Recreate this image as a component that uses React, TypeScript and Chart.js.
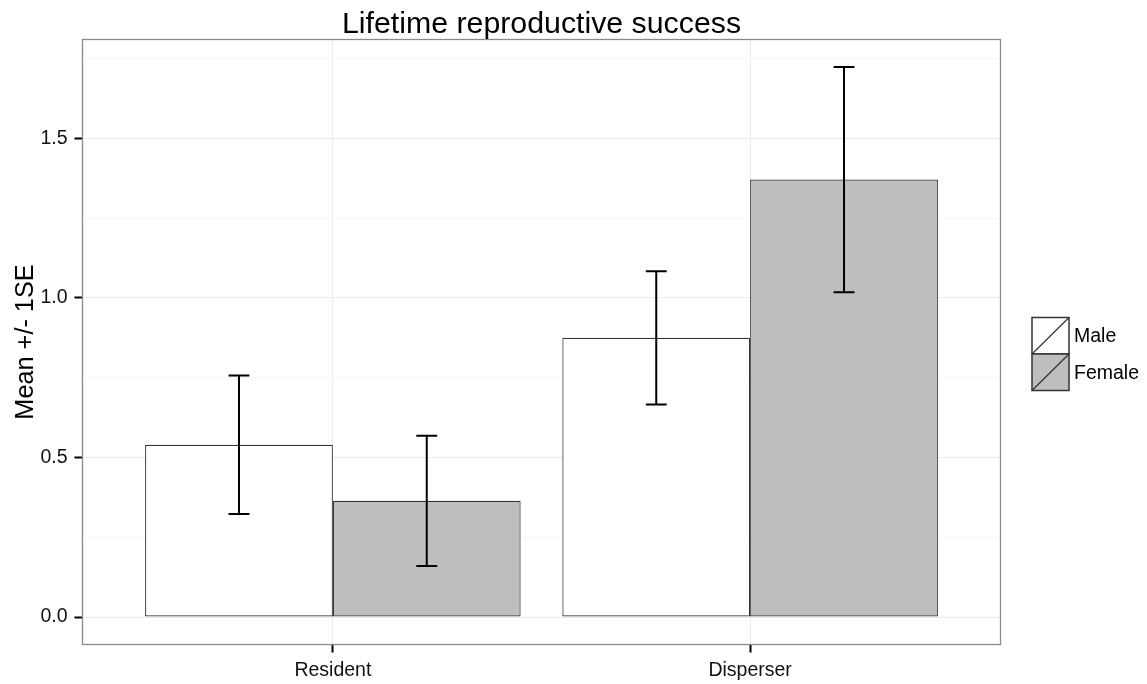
import React, { useEffect, useRef } from "react";
import { Chart, registerables } from "chart.js";

Chart.register(...registerables);

const categories = ["Resident", "Disperser"];
const seriesNames = ["Male", "Female"];
const maleMean = [0.54, 0.875];
const maleSE = [0.217, 0.209];
const femaleMean = [0.364, 1.371];
const femaleSE = [0.204, 0.353];
const yTicks = [0, 0.25, 0.5, 0.75, 1.0, 1.25, 1.5, 1.75];
const titleText = "Lifetime reproductive success";
const yTitle = "Mean +/- 1SE";

const FONT = "'Liberation Sans', Arial, Helvetica, sans-serif";
const fills = ["#ffffff", "#bebebe"];
const seList = [maleSE, femaleSE];

export default function App() {
  const ref = useRef<HTMLCanvasElement | null>(null);
  useEffect(() => {
    document.body.style.margin = "0";
    const canvas = ref.current!;
    const maxUpper = Math.max(
      ...maleMean.map((m, i) => m + maleSE[i]),
      ...femaleMean.map((m, i) => m + femaleSE[i])
    );
    const yMax = maxUpper * 1.05;
    const yMin = -maxUpper * 0.05;

    const decor = {
      id: "decor",
      afterDatasetsDraw(chart: any) {
        const ctx = chart.ctx;
        const x = chart.scales.x;
        const y = chart.scales.y;
        const half = (x.getPixelForValue(0.025) - x.getPixelForValue(0));
        ctx.save();
        ctx.strokeStyle = "#000";
        ctx.lineWidth = 2;
        chart.data.datasets.forEach((ds: any, di: number) => {
          const meta = chart.getDatasetMeta(di);
          meta.data.forEach((el: any, j: number) => {
            const m = ds.data[j].y;
            const se = seList[di][j];
            const cx = el.x;
            const top = y.getPixelForValue(m + se);
            const bot = y.getPixelForValue(m - se);
            ctx.beginPath();
            ctx.moveTo(cx, top);
            ctx.lineTo(cx, bot);
            ctx.moveTo(cx - half, top);
            ctx.lineTo(cx + half, top);
            ctx.moveTo(cx - half, bot);
            ctx.lineTo(cx + half, bot);
            ctx.stroke();
          });
        });
        ctx.restore();
      },
      afterDraw(chart: any) {
        const ctx = chart.ctx;
        const a = chart.chartArea;
        ctx.save();
        // panel border
        ctx.strokeStyle = "#8a8a8a";
        ctx.lineWidth = 1.3;
        ctx.strokeRect(a.left, a.top, a.right - a.left, a.bottom - a.top);
        // title
        ctx.fillStyle = "#000";
        ctx.font = `30.3px ${FONT}`;
        ctx.textAlign = "center";
        ctx.textBaseline = "alphabetic";
        ctx.fillText(titleText, (a.left + a.right) / 2, 33);
        // y title
        ctx.save();
        ctx.translate(33, (a.top + a.bottom) / 2);
        ctx.rotate(-Math.PI / 2);
        ctx.font = `25.3px ${FONT}`;
        ctx.fillText(yTitle, 0, 0);
        ctx.restore();
        // legend
        const bx = 1032, bw = 37, bh = 36.5;
        let by = 317.5;
        seriesNames.forEach((name, i) => {
          ctx.fillStyle = fills[i];
          ctx.fillRect(bx, by, bw, bh);
          ctx.strokeStyle = "#333";
          ctx.lineWidth = 1.5;
          ctx.strokeRect(bx, by, bw, bh);
          ctx.beginPath();
          ctx.lineWidth = 1.2;
          ctx.moveTo(bx, by + bh);
          ctx.lineTo(bx + bw, by);
          ctx.stroke();
          ctx.fillStyle = "#000";
          ctx.font = `19.5px ${FONT}`;
          ctx.textAlign = "left";
          ctx.textBaseline = "middle";
          ctx.fillText(name, bx + bw + 5, by + bh / 2 + 1);
          by += bh;
        });
        ctx.restore();
      },
    };

    const chart = new Chart(canvas, {
      type: "bar",
      data: {
        datasets: [
          {
            label: seriesNames[0],
            data: maleMean.map((v, i) => ({ x: i + 1, y: v })),
            backgroundColor: fills[0],
            borderColor: "#333",
            borderWidth: 1.2,
            borderSkipped: false,
            categoryPercentage: 0.9,
            barPercentage: 1.0,
          },
          {
            label: seriesNames[1],
            data: femaleMean.map((v, i) => ({ x: i + 1, y: v })),
            backgroundColor: fills[1],
            borderColor: "#333",
            borderWidth: 1.2,
            borderSkipped: false,
            categoryPercentage: 0.9,
            barPercentage: 1.0,
          },
        ],
      },
      options: {
        animation: false,
        responsive: false,
        maintainAspectRatio: false,
        layout: { padding: { left: 0, top: 39.5, right: 146.5, bottom: 0 } },
        plugins: {
          legend: { display: false },
          title: { display: false },
          tooltip: { enabled: false },
        },
        scales: {
          x: {
            type: "linear",
            min: 0.4,
            max: 2.6,
            offset: false,
            border: { display: false },
            grid: {
              offset: false,
              color: "#ebebeb",
              lineWidth: 1,
              tickColor: "#000",
              tickLength: 8,
              tickWidth: 2,
            },
            afterBuildTicks: (s: any) => {
              s.ticks = categories.map((_, i) => ({ value: i + 1 }));
            },
            afterFit: (s: any) => {
              s.height = 39.5;
            },
            ticks: {
              padding: 6,
              color: "#111",
              font: { family: FONT, size: 19.5 },
              maxRotation: 0,
              callback: (v: any) => categories[Math.round(Number(v)) - 1] ?? "",
            },
          },
          y: {
            type: "linear",
            min: yMin,
            max: yMax,
            border: { display: false },
            grid: {
              color: (c: any) =>
                Math.abs((c.tick?.value ?? 0) * 2 - Math.round((c.tick?.value ?? 0) * 2)) < 1e-6
                  ? "#ebebeb"
                  : "#f6f6f6",
              lineWidth: 1,
              tickColor: (c: any) =>
                Math.abs((c.tick?.value ?? 0) * 2 - Math.round((c.tick?.value ?? 0) * 2)) < 1e-6
                  ? "#000"
                  : "rgba(0,0,0,0)",
              tickLength: 8,
              tickWidth: 2,
            },
            afterBuildTicks: (s: any) => {
              s.ticks = yTicks.map((v) => ({ value: v }));
            },
            afterFit: (s: any) => {
              s.width = 82.5;
            },
            ticks: {
              padding: 7,
              color: "#111",
              font: { family: FONT, size: 19.5 },
              callback: (v: any) => {
                const n = Number(v);
                return Math.abs(n * 2 - Math.round(n * 2)) < 1e-6 ? n.toFixed(1) : "";
              },
            },
          },
        },
      },
      plugins: [decor],
    } as any);
    return () => chart.destroy();
  }, []);
  return (
    <div style={{ position: "absolute", left: 0, top: 0, width: 1147, height: 684, background: "#fff" }}>
      <canvas ref={ref} width={1147} height={684} style={{ width: 1147, height: 684, display: "block" }} />
    </div>
  );
}
